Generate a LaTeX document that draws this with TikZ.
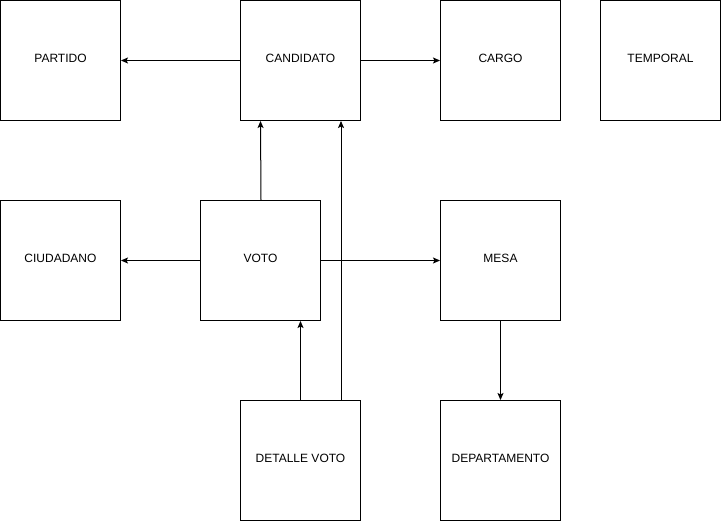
\documentclass[tikz,border=0pt]{standalone}
\usepackage{fontspec}
\setmainfont{Liberation Sans}
\usetikzlibrary{arrows.meta}
\begin{document}
\begin{tikzpicture}[x=1pt,y=-1pt,
  ent/.style={draw=black, line width=1pt, minimum width=120pt, minimum height=120pt, inner sep=0pt, anchor=north west},
  lbl/.style={font=\fontsize{12}{14}\selectfont, inner sep=0pt},
  conn/.style={draw=black, line width=1pt, -{Stealth[length=7pt,width=6pt,inset=1.5pt]}}]
\useasboundingbox (0,0) rectangle (721,521);
\node[ent] (partido) at (0,0) {};
\node[lbl] (tpartido) at (60.5,58.5) {PARTIDO};
\node[ent] (candidato) at (240,0) {};
\node[lbl] (tcandidato) at (300.5,58.5) {CANDIDATO};
\node[ent] (cargo) at (440,0) {};
\node[lbl] (tcargo) at (500.5,58.5) {CARGO};
\node[ent] (temporal) at (600,0) {};
\node[lbl] (ttemporal) at (660.5,58.5) {TEMPORAL};
\node[ent] (ciudadano) at (0,200) {};
\node[lbl] (tciudadano) at (60.5,258.5) {CIUDADANO};
\node[ent] (voto) at (200,200) {};
\node[lbl] (tvoto) at (260.5,258.5) {VOTO};
\node[ent] (mesa) at (440,200) {};
\node[lbl] (tmesa) at (500.5,258.5) {MESA};
\node[ent] (detalle) at (240,400) {};
\node[lbl] (tdetalle) at (300.5,458.5) {DETALLE VOTO};
\node[ent] (depto) at (440,400) {};
\node[lbl] (tdepto) at (500.5,458.5) {DEPARTAMENTO};
% connectors
\draw[conn] (candidato.west |- 0,60.5) -- (partido.east |- 0,60.5);
\draw[conn] (candidato.east |- 0,60.5) -- (cargo.west |- 0,60.5);
\draw[conn] ([xshift=0.5pt]voto.north) -- (candidato.south -| 260.5,0);
\draw[conn] (detalle.north -| 341,0) -- (candidato.south -| 341,0);
\draw[conn] (detalle.north -| 300.5,0) -- (voto.south -| 300.5,0);
\draw[conn] (voto.west) -- (ciudadano.east);
\draw[conn] (voto.east) -- (mesa.west);
\draw[conn] (mesa.south) -- (depto.north);
\end{tikzpicture}
\end{document}
